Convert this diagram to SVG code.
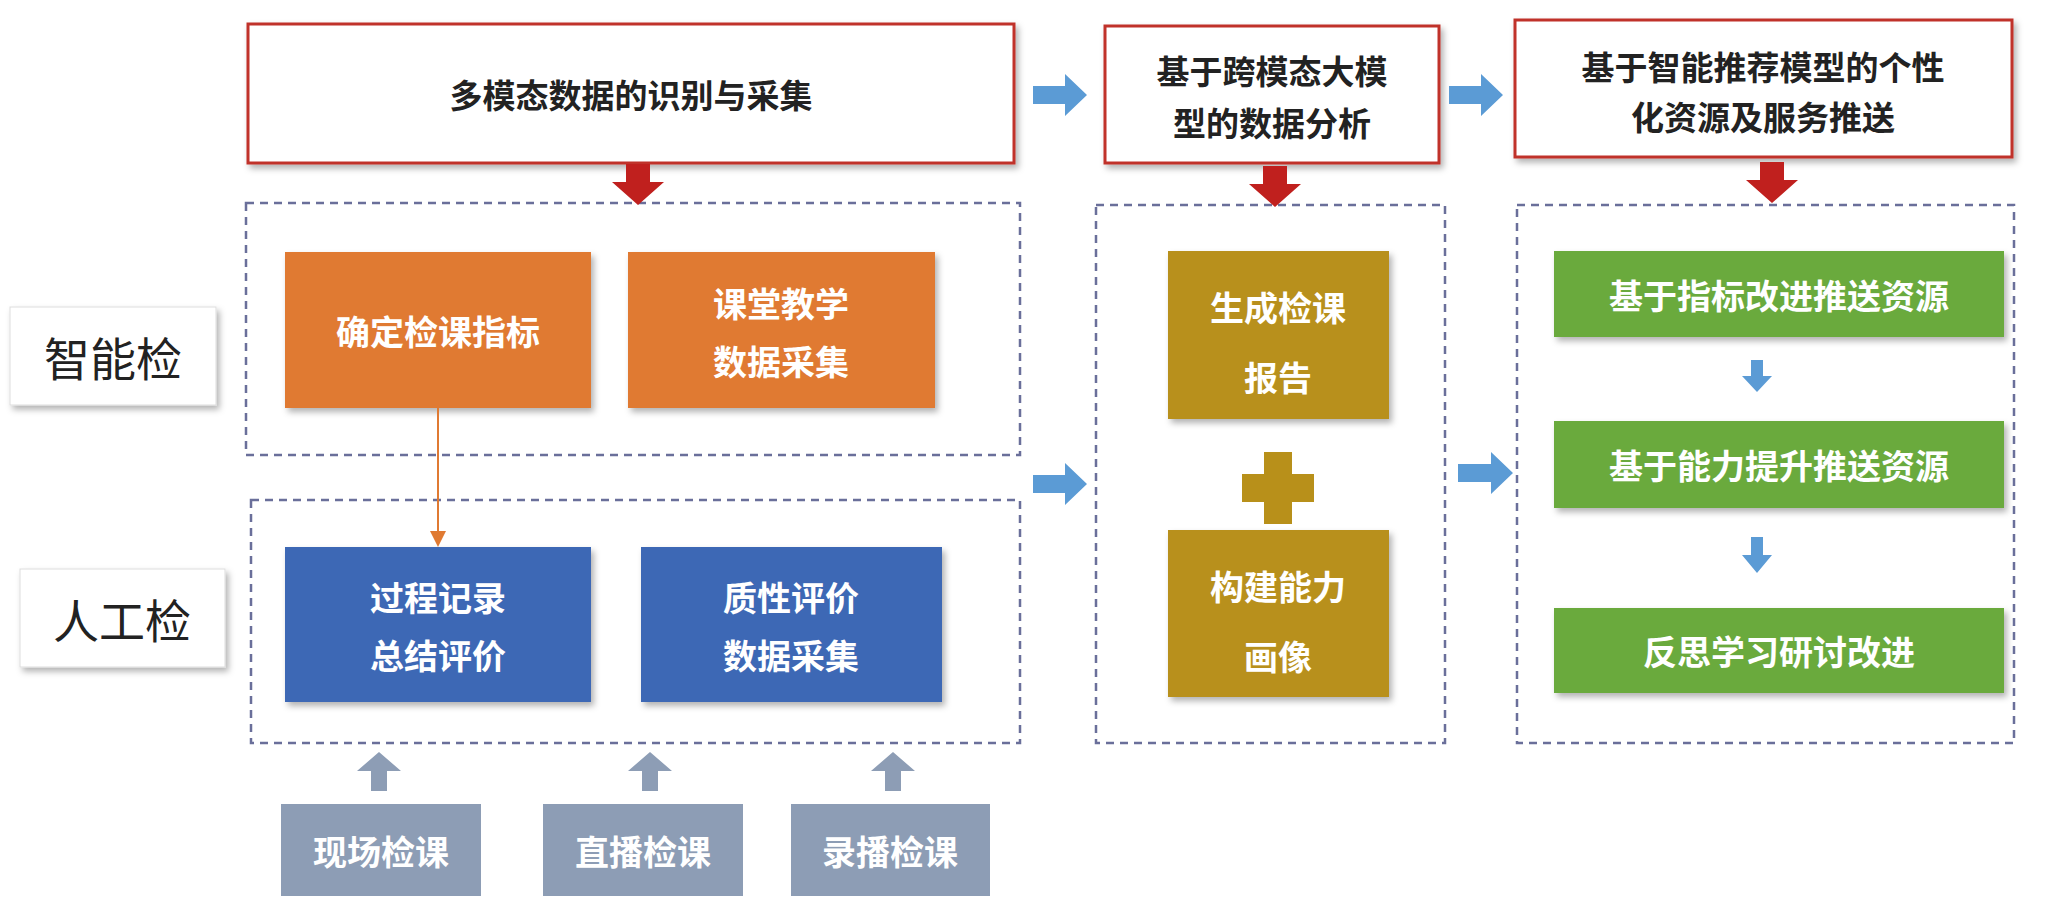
<svg xmlns="http://www.w3.org/2000/svg" width="2051" height="914" viewBox="0 0 2051 914">
<style>
text{font-family:"Noto Sans CJK SC","Liberation Sans",sans-serif;font-weight:bold;text-anchor:middle;dominant-baseline:central}
.w{fill:#fff;font-size:34px}
.t{fill:#222;font-size:33px}
.dash{fill:none;stroke:#6a6f9a;stroke-width:2.5;stroke-dasharray:8 6}
.top{fill:#fff;stroke:#c0302a;stroke-width:3}
.lab{fill:#fff;stroke:#ddd;stroke-width:1}
.lt{fill:#222;font-size:46px;font-weight:normal}
</style>
<defs>
<filter id="sh" x="-10%" y="-10%" width="130%" height="130%"><feDropShadow dx="3" dy="4" stdDeviation="3" flood-opacity="0.3"/></filter>
<marker id="oa" markerWidth="8" markerHeight="8" refX="6" refY="4" orient="auto"><path d="M0,0L8,4L0,8z" fill="#E07A32"/></marker>
</defs>
<rect width="2051" height="914" fill="#fff"/>
<g id="top1"><rect class="top" x="248" y="24" width="766" height="139" filter="url(#sh)"/><text class="t" x="631" y="94">多模态数据的识别与采集</text></g>
<g id="top2"><rect class="top" x="1105" y="26" width="334" height="137" filter="url(#sh)"/><text class="t" x="1272" y="70">基于跨模态大模</text><text class="t" x="1272" y="122">型的数据分析</text></g>
<g id="top3"><rect class="top" x="1515" y="20" width="497" height="137" filter="url(#sh)"/><text class="t" x="1763" y="66">基于智能推荐模型的个性</text><text class="t" x="1763" y="116">化资源及服务推送</text></g>
<g id="frames">
<rect class="dash" x="246" y="203" width="774" height="252"/>
<rect class="dash" x="251" y="500" width="769" height="243"/>
<rect class="dash" x="1096" y="205" width="349" height="538"/>
<rect class="dash" x="1517" y="205" width="497" height="538"/>
</g>
<g id="lab1"><rect class="lab" x="10" y="307" width="206" height="98" filter="url(#sh)"/><text class="lt" x="113" y="356">智能检</text></g>
<g id="lab2"><rect class="lab" x="20" y="569" width="205" height="98" filter="url(#sh)"/><text class="lt" x="122" y="618">人工检</text></g>
<g id="o1"><rect x="285" y="252" width="306" height="156" fill="#E07A32" filter="url(#sh)"/><text class="w" x="438" y="330">确定检课指标</text></g>
<g id="o2"><rect x="628" y="252" width="307" height="156" fill="#E07A32" filter="url(#sh)"/><text class="w" x="781" y="302">课堂教学</text><text class="w" x="781" y="360">数据采集</text></g>
<g id="b1"><rect x="285" y="547" width="306" height="155" fill="#3E68B5" filter="url(#sh)"/><text class="w" x="438" y="596">过程记录</text><text class="w" x="438" y="654">总结评价</text></g>
<g id="b2"><rect x="641" y="547" width="301" height="155" fill="#3E68B5" filter="url(#sh)"/><text class="w" x="791" y="596">质性评价</text><text class="w" x="791" y="654">数据采集</text></g>
<g id="g1"><rect x="281" y="804" width="200" height="92" fill="#8D9DB5"/><text class="w" x="381" y="850">现场检课</text></g>
<g id="g2"><rect x="543" y="804" width="200" height="92" fill="#8D9DB5"/><text class="w" x="643" y="850">直播检课</text></g>
<g id="g3"><rect x="791" y="804" width="199" height="92" fill="#8D9DB5"/><text class="w" x="890" y="850">录播检课</text></g>
<g id="y1"><rect x="1168" y="251" width="221" height="168" fill="#B8901A" filter="url(#sh)"/><text class="w" x="1278" y="306">生成检课</text><text class="w" x="1278" y="376">报告</text></g>
<g id="plus"><path d="M1264,452h28v22h22v28h-22v22h-28v-22h-22v-28h22z" fill="#B8901A"/></g>
<g id="y2"><rect x="1168" y="530" width="221" height="167" fill="#B8901A" filter="url(#sh)"/><text class="w" x="1278" y="585">构建能力</text><text class="w" x="1278" y="655">画像</text></g>
<g id="gr1"><rect x="1554" y="251" width="450" height="86" fill="#6AAA3C" filter="url(#sh)"/><text class="w" x="1779" y="294">基于指标改进推送资源</text></g>
<g id="gr2"><rect x="1554" y="421" width="450" height="87" fill="#6AAA3C" filter="url(#sh)"/><text class="w" x="1779" y="464">基于能力提升推送资源</text></g>
<g id="gr3"><rect x="1554" y="608" width="450" height="85" fill="#6AAA3C" filter="url(#sh)"/><text class="w" x="1779" y="650">反思学习研讨改进</text></g>
<g id="connectors">
<path d="M1033,86h32v-12l22,21l-22,21v-12h-32z" fill="#5B9BD5"/>
<path d="M1449,86h32v-12l22,21l-22,21v-12h-32z" fill="#5B9BD5"/>
<path d="M1033,475h32v-12l22,21l-22,21v-12h-32z" fill="#5B9BD5"/>
<path d="M1458,464h33v-12l22,21l-22,21v-12h-33z" fill="#5B9BD5"/>
<path d="M626,164h24v18h14l-26,23l-26,-23h14z" fill="#C0201E"/>
<path d="M1263,166h24v18h14l-26,23l-26,-23h14z" fill="#C0201E"/>
<path d="M1760,162h24v18h14l-26,23l-26,-23h14z" fill="#C0201E"/>
<path d="M1751,360h12v16h9l-15,16l-15,-16h9z" fill="#5B9BD5"/>
<path d="M1751,537h12v18h9l-15,18l-15,-18h9z" fill="#5B9BD5"/>
<path d="M371,791v-20h-14l22,-19l22,19h-14v20z" fill="#8D9DB5"/>
<path d="M642,791v-20h-14l22,-19l22,19h-14v20z" fill="#8D9DB5"/>
<path d="M885,791v-20h-14l22,-19l22,19h-14v20z" fill="#8D9DB5"/>
<line x1="438" y1="408" x2="438" y2="543" stroke="#E07A32" stroke-width="2" marker-end="url(#oa)"/>
</g>
</svg>
